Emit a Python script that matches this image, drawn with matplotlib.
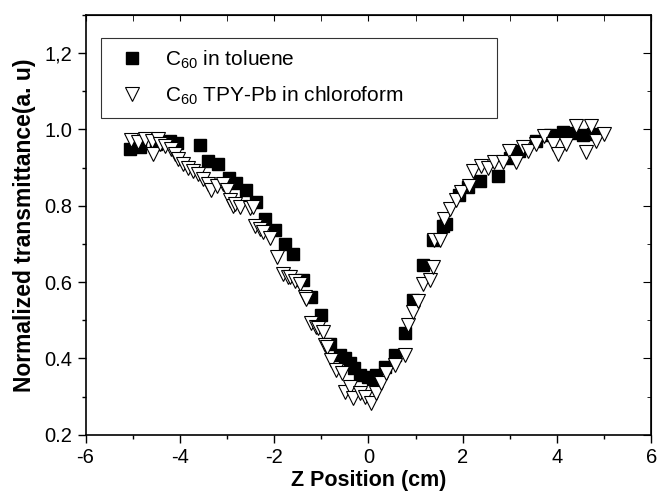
import numpy as np
import matplotlib
matplotlib.use("Agg")
import matplotlib.pyplot as plt
from matplotlib.ticker import MultipleLocator, FixedLocator

plt.rcParams["font.family"] = ["Liberation Sans", "DejaVu Sans"]
plt.rcParams["axes.unicode_minus"] = False
plt.rcParams["mathtext.fontset"] = "custom"
plt.rcParams["mathtext.rm"] = "Liberation Sans"

# C60 in toluene (filled squares)
z_tol = [-5.06, -4.85, -4.5, -4.21, -4.05, -3.58, -3.40, -3.19, -2.95, -2.80,
         -2.59, -2.38, -2.20, -1.99, -1.78, -1.60, -1.39, -1.21, -1.00, -0.82,
         -0.61, -0.50, -0.40, -0.30, -0.19, -0.01, 0.10, 0.17, 0.34, 0.56,
         0.77, 0.94, 1.15, 1.37, 1.58, 1.65, 1.93, 2.10, 2.36, 2.74,
         3.00, 3.20, 3.56, 3.85, 4.12, 4.30, 4.55, 4.76]
t_tol = [0.949, 0.955, 0.962, 0.971, 0.965, 0.958, 0.918, 0.909, 0.872, 0.860,
         0.840, 0.810, 0.765, 0.737, 0.700, 0.674, 0.605, 0.561, 0.513, 0.439,
         0.409, 0.400, 0.387, 0.375, 0.357, 0.352, 0.347, 0.357, 0.378, 0.409,
         0.466, 0.552, 0.644, 0.711, 0.748, 0.753, 0.827, 0.850, 0.866, 0.879,
         0.925, 0.944, 0.970, 0.985, 0.992, 0.990, 0.985, 0.988]

# C60 TPY-Pb in chloroform (open down triangles)
z_tpy = [-5.03, -4.88, -4.74, -4.60, -4.57, -4.46, -4.42, -4.32, -4.18, -4.11,
         -4.04, -3.93, -3.82, -3.72, -3.61, -3.51, -3.40, -3.33, -3.22, -3.08,
         -3.01, -2.94, -2.87, -2.83, -2.73, -2.52, -2.45, -2.41, -2.31, -2.24,
         -2.09, -1.95, -1.81, -1.71, -1.67, -1.56, -1.46, -1.35, -1.32, -1.21,
         -1.11, -1.07, -0.96, -0.93, -0.89, -0.79, -0.68, -0.57, -0.50, -0.40,
         -0.33, -0.19, -0.08, 0.06, 0.17, 0.27, 0.38, 0.56, 0.77, 0.84,
         0.94, 1.05, 1.15, 1.30, 1.37, 1.40, 1.51, 1.61, 1.72, 1.86,
         1.97, 2.14, 2.21, 2.39, 2.53, 2.67, 2.85, 2.99, 3.13, 3.27,
         3.38, 3.56, 3.73, 3.91, 4.01, 4.19, 4.40, 4.61, 4.72, 4.83,
         5.00]
t_tpy = [0.972, 0.966, 0.976, 0.970, 0.935, 0.975, 0.962, 0.957, 0.949, 0.935,
         0.922, 0.909, 0.900, 0.892, 0.883, 0.870, 0.857, 0.840, 0.853, 0.857,
         0.840, 0.814, 0.800, 0.805, 0.798, 0.795, 0.796, 0.748, 0.740, 0.731,
         0.716, 0.666, 0.622, 0.613, 0.613, 0.603, 0.596, 0.561, 0.557, 0.494,
         0.483, 0.479, 0.470, 0.435, 0.431, 0.396, 0.370, 0.361, 0.313, 0.325,
         0.296, 0.309, 0.300, 0.283, 0.309, 0.335, 0.361, 0.383, 0.409, 0.487,
         0.522, 0.550, 0.596, 0.605, 0.640, 0.709, 0.709, 0.766, 0.792, 0.814,
         0.835, 0.853, 0.892, 0.905, 0.900, 0.914, 0.914, 0.944, 0.914, 0.953,
         0.944, 0.961, 0.983, 0.961, 0.935, 0.961, 1.009, 0.940, 1.009, 0.970,
         0.988]

yticks = [0.2, 0.4, 0.6, 0.8, 1.0, 1.2]
ylabels = ["0.2", "0.4", "0.6", "0.8", "1.0", "1,2"]

fig = plt.figure(figsize=(6.58, 4.98), dpi=100)
ax = fig.add_axes([0.130, 0.127, 0.860, 0.843])

ax.plot(z_tol, t_tol, linestyle="none", marker="s", markersize=8,
        color="black", label=r"C$_{\mathrm{60}}$ in toluene")
ax.plot(z_tpy, t_tpy, linestyle="none", marker="v", markersize=10.5,
        markerfacecolor="white", markeredgecolor="black", markeredgewidth=0.8,
        label=r"C$_{\mathrm{60}}$ TPY-Pb in chloroform")

ax.set_xlim(-6, 6)
ax.set_ylim(0.2, 1.3)
ax.xaxis.set_major_locator(MultipleLocator(2))
ax.xaxis.set_minor_locator(MultipleLocator(1))
ax.yaxis.set_major_locator(FixedLocator(yticks))
ax.yaxis.set_minor_locator(MultipleLocator(0.1))
ax.set_yticklabels(ylabels)
ax.tick_params(which="both", direction="out", labelsize=14.5, width=1)
ax.tick_params(which="major", length=6)
ax.tick_params(which="minor", length=3)

top = ax.secondary_xaxis("top")
top.xaxis.set_major_locator(MultipleLocator(2))
top.xaxis.set_minor_locator(MultipleLocator(1))
top.tick_params(which="both", direction="in", labeltop=False, length=4)
right = ax.secondary_yaxis("right")
right.yaxis.set_major_locator(FixedLocator(yticks))
right.yaxis.set_minor_locator(MultipleLocator(0.1))
right.tick_params(which="both", direction="in", labelright=False)
right.tick_params(which="major", length=6)
right.tick_params(which="minor", length=3)

for sp in ax.spines.values():
    sp.set_linewidth(1.2)

ax.set_xlabel("Z Position (cm)", fontsize=15.5, fontweight="bold", labelpad=2)
ax.set_ylabel("Normalized transmittance(a. u)", fontsize=16.5, fontweight="bold",
              labelpad=6)

leg = ax.legend(loc="upper left", bbox_to_anchor=(0.027, 0.757, 0.70, 0.188),
                mode="expand", fontsize=15, frameon=True, fancybox=False,
                borderaxespad=0, borderpad=0.5, handlelength=2.0,
                handletextpad=0.6, labelspacing=0.65)
leg.get_frame().set_edgecolor("black")
leg.get_frame().set_linewidth(0.8)

fig.savefig("out.png", dpi=100)
